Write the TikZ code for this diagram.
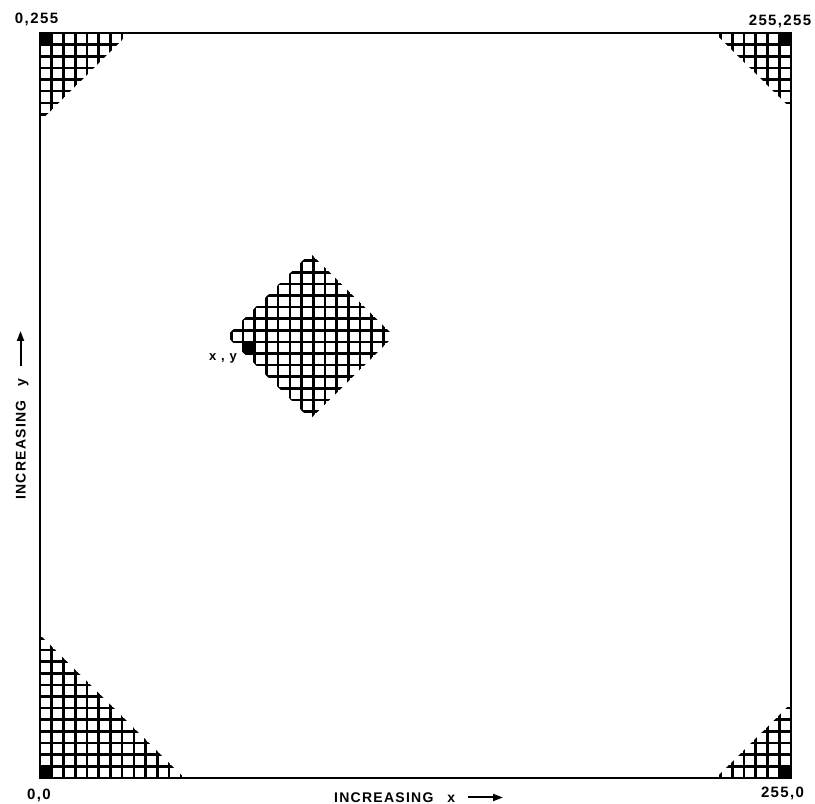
\documentclass[tikz,border=0pt]{standalone}
\usepackage{fontspec}
\setmainfont{Liberation Sans}
\newfontfamily\labfont[LetterSpace=9]{Liberation Sans}
\usetikzlibrary{arrows.meta}
\begin{document}
\begin{tikzpicture}[x=1pt,y=1pt,
  gridline/.style={line width=2.6pt, black},
  framestyle/.style={line width=2.2pt, black},
  lbl/.style={font=\labfont\bfseries\fontsize{14}{16}\selectfont, inner sep=0pt},
  numlbl/.style={font=\labfont\bfseries\fontsize{15}{17}\selectfont, inner sep=0pt},
  axisarrow/.style={line width=2pt, -{Triangle[length=10pt,width=7pt]}}
]
\useasboundingbox (0,0) rectangle (815,804);
\fill[white] (0,0) rectangle (815,804);

% ---- corner grids (frame grid: 64 x 64 cells)
\begin{scope}[shift={(40,26)}, x=11.734pt, y=11.641pt]
  % bottom-left
  \begin{scope}
    \clip (0,0) -- (12.3,0) -- (0,12.3) -- cycle;
    \foreach \k in {0,...,13} {
      \draw[gridline] (\k,0) -- (\k,13);
      \draw[gridline] (0,\k) -- (13,\k);
    }
  \end{scope}
  % top-left
  \begin{scope}
    \clip (0,64) -- (7.6,64) -- (0,56.4) -- cycle;
    \foreach \k in {0,...,8} {
      \draw[gridline] (\k,55) -- (\k,64);
      \draw[gridline] (0,{64-\k}) -- (9,{64-\k});
    }
  \end{scope}
  % top-right
  \begin{scope}
    \clip (64,64) -- (57.5,64) -- (64,57.5) -- cycle;
    \foreach \k in {0,...,7} {
      \draw[gridline] ({64-\k},56) -- ({64-\k},64);
      \draw[gridline] (56,{64-\k}) -- (64,{64-\k});
    }
  \end{scope}
  % bottom-right
  \begin{scope}
    \clip (64,0) -- (57.6,0) -- (64,6.4) -- cycle;
    \foreach \k in {0,...,7} {
      \draw[gridline] ({64-\k},0) -- ({64-\k},8);
      \draw[gridline] (56,\k) -- (64,\k);
    }
  \end{scope}
  % black corner cells
  \fill[black] (0,0) rectangle (1,1);
  \fill[black] (0,63) rectangle (1,64);
  \fill[black] (63,63) rectangle (64,64);
  \fill[black] (63,0) rectangle (64,1);
  % frame
  \draw[framestyle] (0,0) rectangle (64,64);
\end{scope}

% ---- diamond
\begin{scope}[shift={(243,450.5)}, x=11.7pt, y=11.6pt]
  \begin{scope}
    \clip (-1.4,1.5) -- (5.75,8.65) -- (12.9,1.5) -- (5.75,-5.65) -- cycle;
    \foreach \k in {-2,...,13} {
      \draw[gridline] (\k,-7) -- (\k,10);
    }
    \foreach \k in {-6,...,9} {
      \draw[gridline] (-3,\k) -- (14,\k);
    }
  \end{scope}
  \fill[black] (0,0) rectangle (1,1);
\end{scope}

% ---- labels
\node[numlbl] (l0255) at (36.5,785) {0\hspace{1.5pt},\hspace{1.5pt}255};
\node[numlbl] (l255255) at (780,783) {255,255};
\node[numlbl] (l00) at (39,9) {0,0};
\node[numlbl] (l2550) at (782.5,11) {255,0};
\node[lbl, font=\labfont\bfseries\fontsize{13}{15}\selectfont] (lxy) at (223,446) {x , y};

\node[lbl, anchor=base west] (xlab) at (334,1.5) {INCREASING\hspace{14pt}x};
\coordinate (xas) at (468,6.5);
\coordinate (xae) at (503,6.5);
\draw[axisarrow] (xas) -- (xae);

\node[lbl, anchor=base west, rotate=90] (ylab) at (25.5,304) {INCREASING\hspace{14pt}y};
\coordinate (yas) at (20.5,438);
\coordinate (yae) at (20.5,473);
\draw[axisarrow] (yas) -- (yae);
\end{tikzpicture}
\end{document}
